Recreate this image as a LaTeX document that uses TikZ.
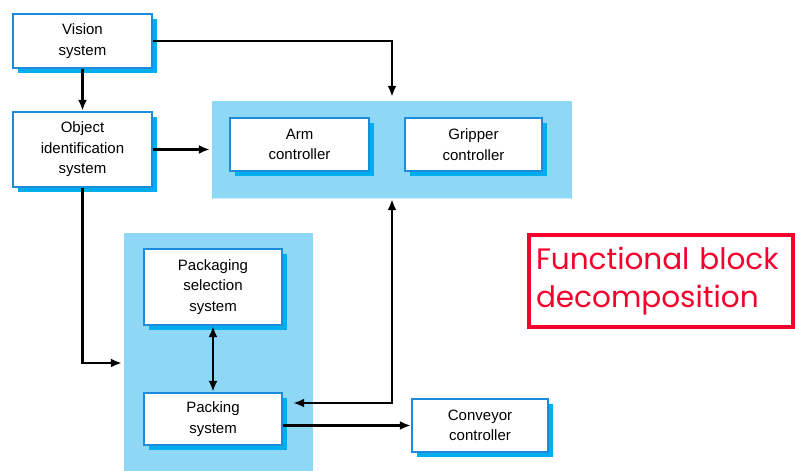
\documentclass[tikz,border=0pt]{standalone}
\usepackage{fontspec}
\setmainfont{Liberation Sans}
\newfontfamily\notefont{Poppins}
\usetikzlibrary{arrows.meta,calc}
\definecolor{boxedge}{HTML}{1C8BDB}
\definecolor{boxshade}{HTML}{00AEEF}
\definecolor{groupfill}{HTML}{8FD8F5}
\definecolor{notered}{HTML}{F5002D}
\begin{document}
\begin{tikzpicture}[x=1pt,y=-1pt,
  block/.style={draw=boxedge,line width=2.4pt,fill=white,align=center,
    inner sep=0pt,font=\fontsize{15}{20.5}\selectfont,
    minimum width=#1},
  block/.default=139pt,
  shade/.style={fill=boxshade},
  group/.style={fill=groupfill,inner sep=0pt},
  tip/.style={Latex[length=11pt,width=9pt]},
  link/.style={line width=2.2pt,-{Latex[length=11pt,width=9pt]}},
  twoway/.style={line width=2.2pt,{Latex[length=11pt,width=9pt]}-{Latex[length=11pt,width=9pt]}},
  note/.style={draw=notered,line width=3.5pt,text=notered,align=left,
    inner sep=0pt,font=\notefont\fontsize{29.5}{38}\selectfont}]
\useasboundingbox (0,0) rectangle (795,471);

% blue group panels
\node[group,minimum width=360pt,minimum height=98pt] (armarea) at (392,150) {};
\draw[white!60!groupfill,line width=1pt] (armarea.south west) ++(1,-1) -- ++(358,0);
\node[group,minimum width=189pt,minimum height=240pt] (packarea) at (218.5,353) {};

% a block with its offset shadow
\newcommand{\blockwithshade}[6]{%
  \fill[shade] (#2+5-#4/2,#3+5-#5/2) rectangle (#2+5+#4/2,#3+5+#5/2);
  \node[block=#4 pt,minimum height=#5 pt] (#1) at (#2,#3) {#6};}

\blockwithshade{vision}{82.5}{41}{139}{54}{Vision\\system}
\blockwithshade{object}{82.5}{149.5}{139}{75}{Object\\identification\\system}
\blockwithshade{arm}{299.5}{144.5}{139}{53}{Arm\\controller}
\blockwithshade{gripper}{473.5}{144.5}{137}{53}{Gripper\\controller}
\blockwithshade{packsel}{213}{287}{138}{76}{Packaging\\selection\\system}
\blockwithshade{packing}{213}{419}{138}{52}{Packing\\system}
\blockwithshade{conveyor}{480}{425.5}{136}{53}{Conveyor\\controller}

% connectors
\draw[link] (vision.south) -- (object.north);
\draw[link,shorten >=4pt] (vision.east) -| (armarea.north);
\draw[link,shorten >=2pt] (object.east) -- (armarea.west |- object.east);
\draw[link,shorten >=2pt] (object.south) |- ($(packarea.west)+(0,10)$);
\draw[twoway] (packsel.south) -- (packing.north);
\draw[twoway,shorten <=4pt] ($(packing.east)+(6,-16)$) -| (armarea.south);
\draw[link] (packing.east |- conveyor.west) -- (conveyor.west);

% annotation
\node[note,minimum width=264pt,minimum height=92pt,text width=250pt] (label) at (661,281)
  {Functional block\\decomposition};
\end{tikzpicture}
\end{document}
